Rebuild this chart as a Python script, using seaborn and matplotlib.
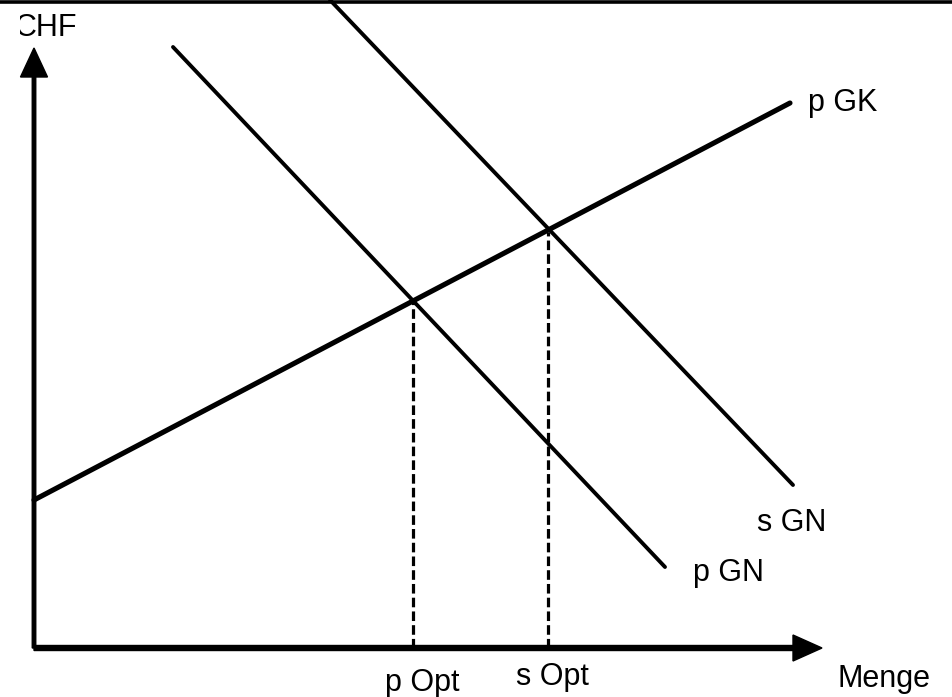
import matplotlib
matplotlib.use("Agg")
import matplotlib.pyplot as plt
import matplotlib.patches as patches
import seaborn as sns

# chart values (quantity on x, CHF on y)
gk_q = [0, 75.6]
gk_p = [14.8, 54.5]
pgn_q = [13.9, 63.1]
pgn_p = [60.1, 8.1]
sgn_q = [29.6, 75.9]
sgn_p = [64.8, 16.3]
opt_names = ["p Opt", "s Opt"]
opt_q = [37.9, 51.4]
opt_p = [34.6, 41.6]
q_max = 78.8
p_max = 60.0

sns.set_style("white")
plt.rcParams['font.family'] = ['Liberation Sans', 'DejaVu Sans']
plt.rcParams['text.color'] = 'black'

fig = plt.figure(figsize=(9.53, 6.97), dpi=100)
ax = fig.add_axes([0, 0, 1, 1])
ax.set_xlim(-3.4, 91.9)
ax.set_ylim(-4.9, 64.8)
ax.axis("off")

# curves
sns.lineplot(x=gk_q, y=gk_p, color="black", lw=3.7, ax=ax, estimator=None, sort=False)
sns.lineplot(x=pgn_q, y=pgn_p, color="black", lw=2.8, ax=ax, estimator=None, sort=False)
sns.lineplot(x=sgn_q, y=sgn_p, color="black", lw=2.8, ax=ax, estimator=None, sort=False)

# dashed drop lines to the optimum quantities
for name, q, p in zip(opt_names, opt_q, opt_p):
    sns.lineplot(x=[q, q], y=[0, p], color="black", lw=2.3, ax=ax,
                 estimator=None, sort=False, linestyle=(0, (3.0, 1.3)))

# axes as arrows
ax.arrow(0, 0, q_max, 0, width=0.5, head_width=2.6, head_length=2.9,
         length_includes_head=True, color="black", zorder=5)
ax.arrow(0, 0, 0, p_max, width=0.35, head_width=2.7, head_length=2.9,
         length_includes_head=True, color="black", zorder=5)

# top border line
ax.axhline(64.6, color="black", lw=2.6)

fs = 22
ax.text(77.4, 54.5, "p GK", fontsize=fs, va="center", ha="left")
ax.text(72.3, 12.5, "s GN", fontsize=fs, va="center", ha="left")
ax.text(65.9, 7.5, "p GN", fontsize=fs, va="center", ha="left")
ax.text(80.4, -3.1, "Menge", fontsize=fs, va="center", ha="left")
ax.text(opt_q[0] + 0.9, -3.5, opt_names[0], fontsize=fs, va="center", ha="center")
ax.text(opt_q[1] + 0.4, -2.9, opt_names[1], fontsize=fs, va="center", ha="center")
chf = ax.text(4.3, 62.0, "CHF", fontsize=fs, va="center", ha="right")
# the left part of the CHF label is cut off in the original
clip = patches.Rectangle((-1.4, 50), 100, 14.3, transform=ax.transData)
chf.set_clip_path(clip)
chf.set_clip_on(True)

fig.savefig("out.png", dpi=100)
